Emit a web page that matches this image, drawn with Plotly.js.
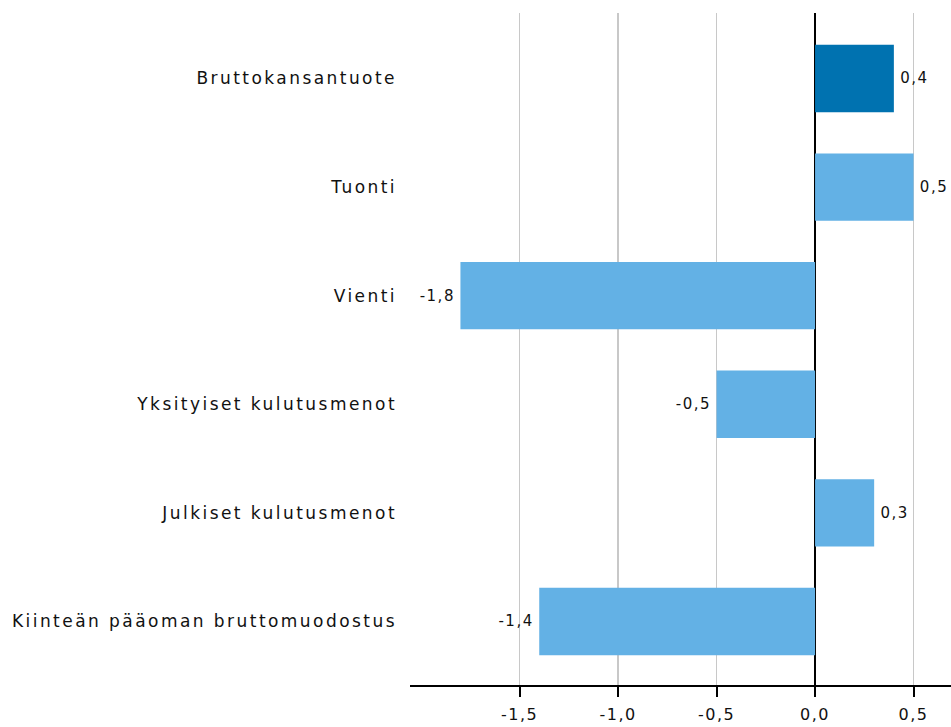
<!DOCTYPE html>
<html>
<head>
<meta charset="utf-8">
<script src="https://cdn.plot.ly/plotly-3.0.1.min.js"></script>
<style>
  html, body { margin: 0; padding: 0; background: #fff; }
  #chart { width: 951px; height: 727px; }
  #chart .ytick text { letter-spacing: 2.45px; }
  #chart .xtick text { letter-spacing: 1.5px; }
  #chart .bartext text, #chart text.bartext { letter-spacing: 1.5px; }
</style>
</head>
<body>
<div id="chart"></div>
<script>
// Data
const categories = [
  "Bruttokansantuote",
  "Tuonti",
  "Vienti",
  "Yksityiset kulutusmenot",
  "Julkiset kulutusmenot",
  "Kiinteän pääoman bruttomuodostus"
];
const values = [0.4, 0.5, -1.8, -0.5, 0.3, -1.4];
const tickValues = [-1.5, -1.0, -0.5, 0.0, 0.5];

// Finnish number formatting with a plain hyphen as minus sign
const fmt = v => v.toFixed(1).replace(".", ",");
const tickLabels = tickValues.map(fmt);
const valueLabels = values.map(v => v < 0 ? fmt(v) + "\u00a0" : "\u00a0" + fmt(v));

// Styles
const darkBlue = "#0072b0";
const lightBlue = "#63b1e5";
const barColors = categories.map((c, i) => i === 0 ? darkBlue : lightBlue);
const textColor = "#111111";

const trace = {
  type: "bar",
  orientation: "h",
  y: categories,
  x: values,
  width: 0.62,
  marker: { color: barColors, line: { width: 0 } },
  text: valueLabels,
  texttemplate: "%{text}",
  textposition: "outside",
  textfont: { family: "DejaVu Sans", size: 15, color: textColor },
  cliponaxis: false,
  hoverinfo: "skip"
};

const layout = {
  width: 951,
  height: 727,
  margin: { l: 410, r: 0, t: 13, b: 42 },
  paper_bgcolor: "#ffffff",
  plot_bgcolor: "#ffffff",
  showlegend: false,
  font: { family: "DejaVu Sans", size: 15, color: textColor },
  xaxis: {
    range: [-2.056, 0.69],
    tickvals: tickValues,
    ticktext: tickLabels,
    showgrid: true,
    gridcolor: "#c8c8c8",
    gridwidth: 1.5,
    zeroline: true,
    zerolinecolor: "#000000",
    zerolinewidth: 2,
    showline: true,
    linecolor: "#000000",
    linewidth: 2,
    ticks: "outside",
    ticklen: 10,
    tickwidth: 2,
    tickcolor: "#000000",
    ticklabelstandoff: 4,
    tickfont: { family: "DejaVu Sans", size: 16, color: textColor },
    fixedrange: true
  },
  yaxis: {
    type: "category",
    range: [5.585, -0.603],
    showgrid: false,
    zeroline: false,
    showline: false,
    ticks: "",
    ticklabelstandoff: 12,
    tickfont: { family: "DejaVu Sans", size: 17, color: textColor },
    fixedrange: true
  }
};

Plotly.newPlot("chart", [trace], layout, { displayModeBar: false, staticPlot: true });
</script>
</body>
</html>
